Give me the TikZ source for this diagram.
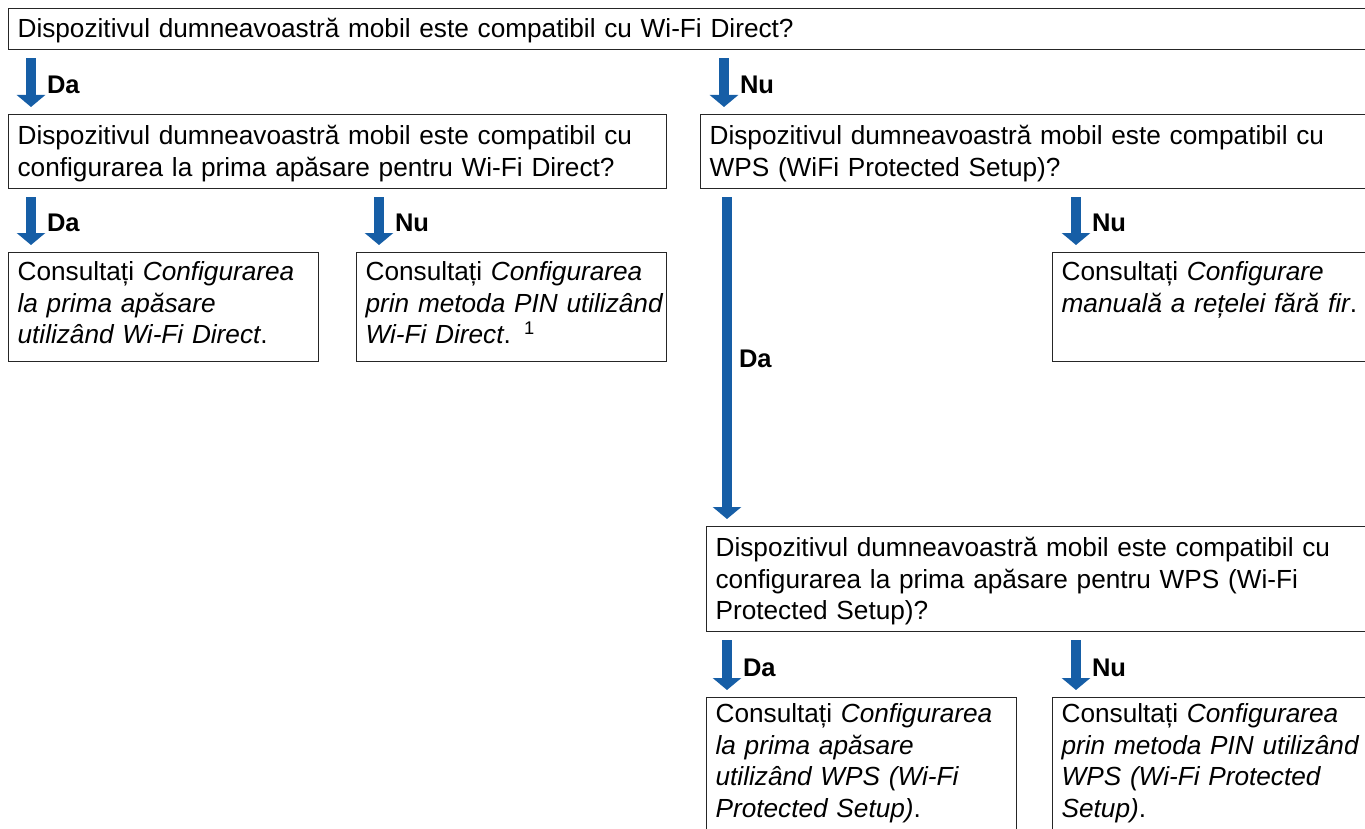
\documentclass[tikz,border=0pt]{standalone}
\usepackage{fontspec}
\setmainfont{Liberation Sans}
\usepackage{xcolor}
\usetikzlibrary{calc,arrows.meta}
\definecolor{arrblue}{RGB}{22,94,166}

\tikzset{
  box/.style={draw=black!85, line width=1.2pt, anchor=north west, align=left,
              inner xsep=9pt, inner ysep=0pt},
  arr/.style={draw=arrblue, line width=10pt, -{Triangle[width=28pt,length=12pt]},
              shorten <=8pt, shorten >=7pt},
  lbl/.style={anchor=base west, inner sep=0pt, font=\fontsize{25.5}{31.5}\selectfont\bfseries, xshift=11pt}
}

\begin{document}
\begin{tikzpicture}[x=1pt, y=-1pt, every node/.append style={font=\fontsize{26.2}{31.5}\selectfont}]
      \useasboundingbox (0,0) rectangle (1365,829);
      \clip (0,0) rectangle (1365,829);

      % questions
      \node[box, text width=1354pt, text height=29pt, text depth=12pt] (q1) at (8,8)
        {Dispozitivul dumneavoastră mobil este compatibil cu Wi-Fi Direct?};
      \node[box, text width=640pt, text height=30pt, text depth=44pt] (q2) at (8,114)
        {Dispozitivul dumneavoastră mobil este compatibil cu\\configurarea la prima apăsare pentru Wi-Fi Direct?};
      \node[box, text width=662pt, text height=30pt, text depth=44pt] (q3) at (700,114)
        {Dispozitivul dumneavoastră mobil este compatibil cu\\WPS (WiFi Protected Setup)?};
      \node[box, text width=656pt, text height=30pt, text depth=75pt] (q4) at (706,526)
        {Dispozitivul dumneavoastră mobil este compatibil cu\\configurarea la prima apăsare pentru WPS (Wi-Fi\\Protected Setup)?};

      % answers
      \node[box, text width=292pt, text height=28pt, text depth=81pt] (r1) at (8,252)
        {Consultați \textit{Configurarea}\\\textit{la prima apăsare}\\\textit{utilizând Wi-Fi Direct}.};
      \node[box, text width=292pt, text height=28pt, text depth=81pt] (r2) at (356,252)
        {Consultați \textit{Configurarea}\\\mbox{\textit{prin metoda PIN utilizând}}\\\textit{Wi-Fi Direct}. \textsuperscript{1}};
      \node[box, text width=310pt, text height=28pt, text depth=81pt] (r3) at (1052,252)
        {Consultați \textit{Configurare}\\\textit{manuală a rețelei fără fir}.};
      \node[box, text width=292pt, text height=25pt, text depth=115pt] (r4) at (706,697)
        {Consultați \textit{Configurarea}\\\textit{la prima apăsare}\\\textit{utilizând WPS (Wi-Fi}\\\textit{Protected Setup)}.};
      \node[box, text width=310pt, text height=25pt, text depth=115pt] (r5) at (1052,697)
        {Consultați \textit{Configurarea}\\\mbox{\textit{prin metoda PIN utilizând}}\\\textit{WPS (Wi-Fi Protected}\\\textit{Setup)}.};

      % arrow columns
      \coordinate (cA) at (31,0);
      \coordinate (cB) at (379,0);
      \coordinate (cC) at (724,0);
      \coordinate (cD) at (727,0);
      \coordinate (cE) at (1076,0);

      \draw[arr] (q1.south -| cA) -- (q2.north -| cA) node[lbl, pos=0.68] {Da};
      \draw[arr] (q1.south -| cC) -- (q3.north -| cC) node[lbl, pos=0.68] {Nu};
      \draw[arr] (q2.south -| cA) -- (r1.north -| cA) node[lbl, pos=0.68] {Da};
      \draw[arr] (q2.south -| cB) -- (r2.north -| cB) node[lbl, pos=0.68] {Nu};
      \draw[arr] (q3.south -| cD) -- (q4.north -| cD) node[lbl, pos=0.53, xshift=-4pt] {Da};
      \draw[arr] (q3.south -| cE) -- (r3.north -| cE) node[lbl, pos=0.68] {Nu};
      \draw[arr] (q4.south -| cD) -- (r4.north -| cD) node[lbl, pos=0.68] {Da};
      \draw[arr] (q4.south -| cE) -- (r5.north -| cE) node[lbl, pos=0.68] {Nu};
\end{tikzpicture}
\end{document}
